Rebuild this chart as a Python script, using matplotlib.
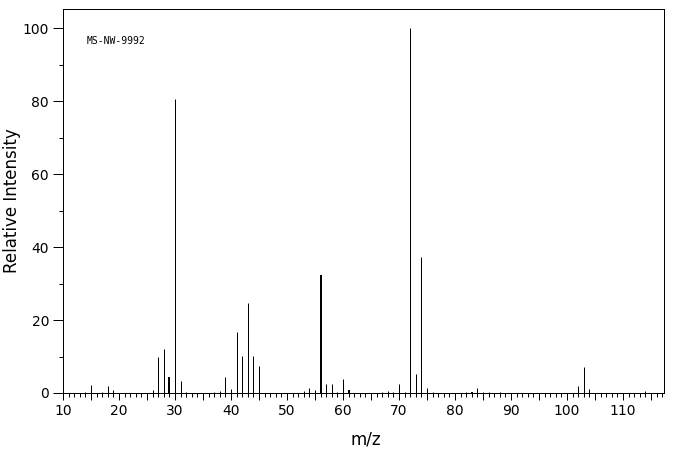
import matplotlib
matplotlib.use("Agg")
import matplotlib.pyplot as plt
from matplotlib.ticker import MultipleLocator, FuncFormatter

# peak list (m/z, relative intensity)
mz = [14, 15, 17, 18, 19, 26, 27, 28, 29, 30, 31, 32,
      37, 38, 39, 40, 41, 42, 43, 44, 45,
      53, 54, 55, 56, 57, 58, 59, 60, 61,
      67, 68, 69, 70, 71, 72, 73, 74, 75, 76,
      82, 83, 84, 85, 86, 88,
      102, 103, 104, 114]
intensity = [0.4, 2.3, 0.4, 2.0, 0.9, 0.9, 9.9, 12.1, 4.5, 80.5, 3.4, 0.3,
             0.3, 0.5, 4.3, 1.1, 16.7, 10.2, 24.7, 10.2, 7.5,
             0.6, 1.4, 0.9, 32.3, 2.6, 2.6, 0.3, 3.7, 0.8,
             0.3, 0.6, 0.3, 2.6, 0.3, 100.0, 5.3, 37.3, 1.4, 0.3,
             0.3, 0.4, 1.4, 0.3, 0.3, 0.4,
             2.0, 7.2, 1.1, 0.6]
# peaks that show up twice as wide in the original plot
wide_peaks = [29, 56, 61, 83]

sample_id = "MS-NW-9992"

fig = plt.figure(figsize=(6.76, 4.55), dpi=100)
ax = fig.add_axes([63 / 676, 1 - 393 / 455, 601 / 676, 384 / 455])

px = 72 / 100  # one pixel in points
thin = [(m, i) for m, i in zip(mz, intensity) if m not in wide_peaks]
wide = [(m, i) for m, i in zip(mz, intensity) if m in wide_peaks]
ax.vlines([p[0] for p in thin], 0, [p[1] for p in thin], color="black", lw=px)
ax.vlines([p[0] for p in wide], 0, [p[1] for p in wide], color="black", lw=2 * px)

ax.set_xlim(10, 10 + 601 / 5.6)
ax.set_ylim(0, 384 / 3.65)

ax.xaxis.set_major_locator(MultipleLocator(5))
ax.xaxis.set_minor_locator(MultipleLocator(1))
ax.xaxis.set_major_formatter(FuncFormatter(lambda v, p: "%d" % v if round(v) % 10 == 0 else ""))
ax.yaxis.set_major_locator(MultipleLocator(20))
ax.yaxis.set_minor_locator(MultipleLocator(10))

ax.tick_params(axis="x", which="major", direction="out", length=5, width=px, labelsize=10, pad=3)
ax.tick_params(axis="x", which="minor", direction="out", length=3, width=px)
ax.tick_params(axis="y", which="major", direction="out", length=7, width=px, labelsize=10, pad=3)
ax.tick_params(axis="y", which="minor", direction="out", length=3, width=px)
for s in ax.spines.values():
    s.set_linewidth(px)

fig.text(366 / 676, 1 - 440 / 455, "m/z", fontsize=12, ha="center", va="center")
fig.text(12 / 676, 1 - 201 / 455, "Relative Intensity", fontsize=12,
         rotation=90, ha="center", va="center")

ax.text(87 / 676, 1 - 41 / 455, sample_id, transform=fig.transFigure,
        fontsize=7, family="DejaVu Sans Mono", va="center", ha="left")

fig.savefig("out.png", dpi=100)
